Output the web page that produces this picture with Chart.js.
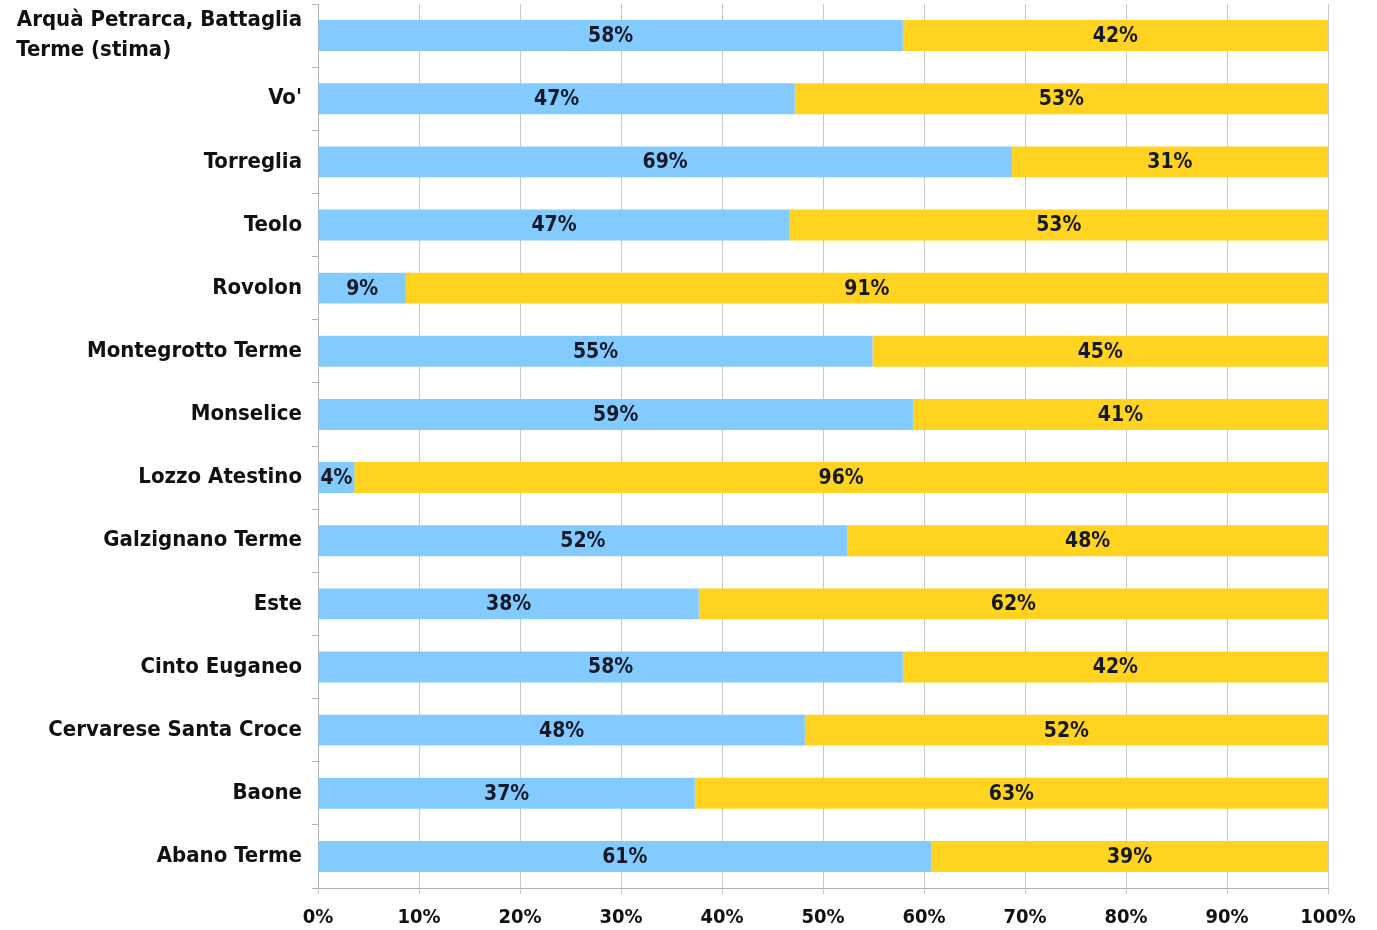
<!DOCTYPE html>
<html>
<head>
<meta charset="utf-8">
<script src="https://cdn.jsdelivr.net/npm/chart.js@4/dist/chart.umd.min.js"></script>
<style>
  html, body { margin: 0; padding: 0; background: #fff; }
  #wrap { width: 1377px; height: 930px; }
</style>
</head>
<body>
<div id="wrap"><canvas id="chart"></canvas></div>
<script>
// Data, top to bottom as in the picture
const comuni = [
  ['Arquà Petrarca, Battaglia', 'Terme (stima)'],
  "Vo'",
  'Torreglia',
  'Teolo',
  'Rovolon',
  'Montegrotto Terme',
  'Monselice',
  'Lozzo Atestino',
  'Galzignano Terme',
  'Este',
  'Cinto Euganeo',
  'Cervarese Santa Croce',
  'Baone',
  'Abano Terme'
];
const quotaBlu = [57.9, 47.2, 68.7, 46.7, 8.7, 54.9, 58.9, 3.6, 52.4, 37.7, 57.9, 48.2, 37.3, 60.7];
const quotaGialla = [42.1, 52.8, 31.3, 53.3, 91.3, 45.1, 41.1, 96.4, 47.6, 62.3, 42.1, 51.8, 62.7, 39.3];

const FONT = '"DejaVu Sans Condensed", "DejaVu Sans", sans-serif';
const LABEL_FONT = 'bold 22px ' + FONT;

// multi-line labels are left aligned in the original: pad short lines with spaces
const measure = document.createElement('canvas').getContext('2d');
measure.font = LABEL_FONT;
function leftAlignLines(label) {
  if (!Array.isArray(label)) return label;
  const widest = Math.max(...label.map(l => measure.measureText(l).width));
  return label.map(l => {
    let s = l;
    while (measure.measureText(s + ' ').width <= widest + 2) s += ' ';
    return s;
  });
}

// Simple in-bar labels (no datalabels plugin offline)
const barLabels = {
  id: 'barLabels',
  afterDatasetsDraw(chart) {
    const ctx = chart.ctx;
    ctx.save();
    ctx.font = 'bold 21px ' + FONT;
    ctx.fillStyle = '#161a28';
    ctx.textAlign = 'center';
    ctx.textBaseline = 'middle';
    chart.data.datasets.forEach((ds, i) => {
      chart.getDatasetMeta(i).data.forEach((bar, j) => {
        const cx = (bar.x + bar.base) / 2;
        ctx.fillText(Math.round(ds.data[j]) + '%', cx, bar.y + 1);
      });
    });
    ctx.restore();
  }
};

new Chart(document.getElementById('chart'), {
  type: 'bar',
  data: {
    labels: comuni,
    datasets: [
      { data: quotaBlu, backgroundColor: '#83caff', barPercentage: 0.49, categoryPercentage: 1 },
      { data: quotaGialla, backgroundColor: '#ffd320', barPercentage: 0.49, categoryPercentage: 1 }
    ]
  },
  options: {
    indexAxis: 'y',
    responsive: true,
    maintainAspectRatio: false,
    animation: false,
    layout: { padding: { top: 4, right: 49, bottom: 0, left: 0 } },
    plugins: { legend: { display: false }, tooltip: { enabled: false } },
    scales: {
      x: {
        stacked: true,
        min: 0,
        max: 100,
        afterFit: (axis) => { axis.height = 42; },
        ticks: {
          stepSize: 10,
          color: '#111',
          font: { family: FONT, size: 20, weight: 'bold' },
          padding: 12,
          callback: (v) => v + '%'
        },
        grid: { color: '#c8c8c8', tickLength: 6, lineWidth: 1 },
        border: { color: '#b0b0b0' }
      },
      y: {
        stacked: true,
        offset: true,
        afterFit: (axis) => {
          axis.width = 318;
          axis.paddingTop = 0;
          axis.paddingBottom = 0;
        },
        ticks: {
          color: '#111',
          font: { family: FONT, size: 22, weight: 'bold', lineHeight: 1.35 },
          padding: 10,
          autoSkip: false,
          callback: function (v, i) { return leftAlignLines(comuni[i]); }
        },
        grid: { offset: true, drawOnChartArea: false, tickLength: 6, color: '#b0b0b0' },
        border: { color: '#b0b0b0' }
      }
    }
  },
  plugins: [barLabels]
});
</script>
</body>
</html>
